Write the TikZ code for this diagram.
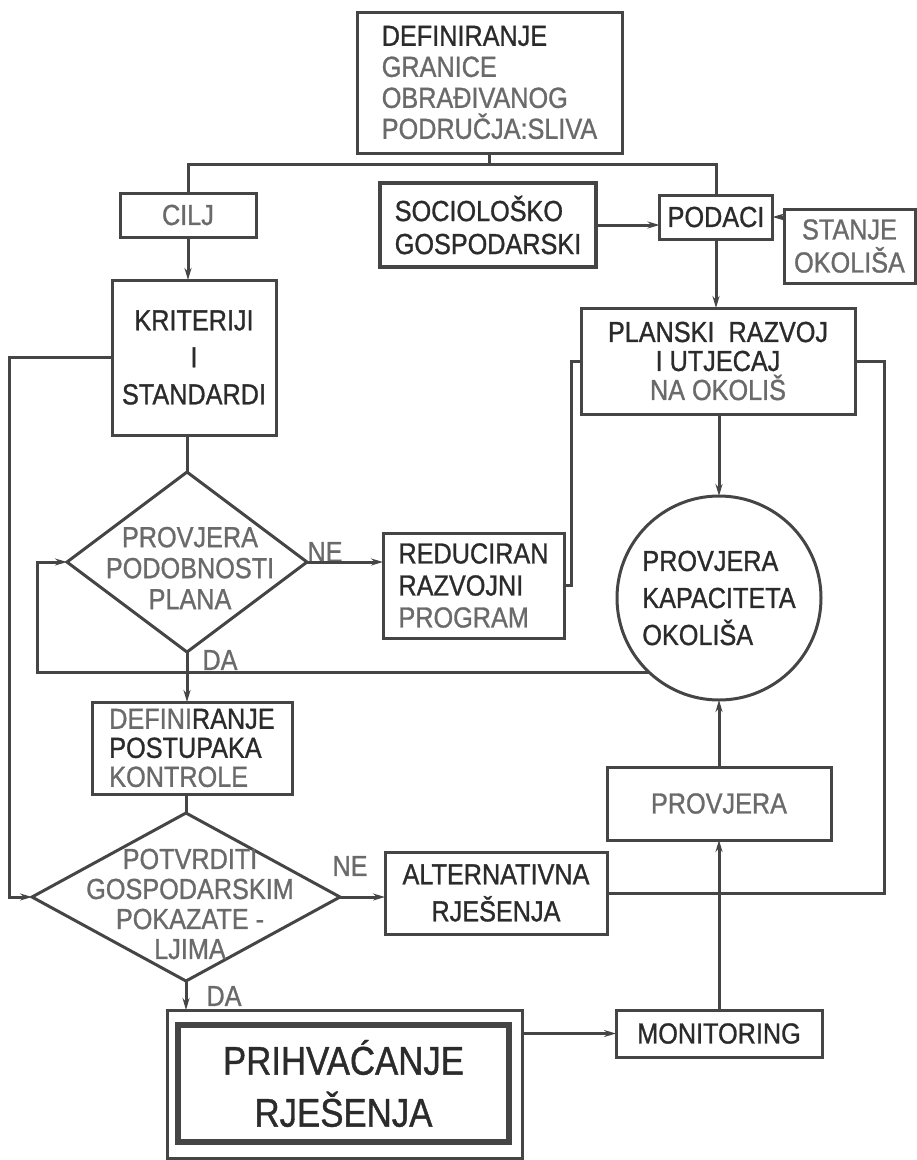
\documentclass[tikz,border=0pt]{standalone}
\usepackage{fontspec}
\setmainfont[FakeStretch=0.87,FakeBold=1]{Liberation Sans}
\usetikzlibrary{arrows.meta,shapes.geometric}

\definecolor{ink}{HTML}{2B2B2B}
\definecolor{pale}{HTML}{6A6A6A}
\definecolor{crta}{HTML}{454545}

\begin{document}
\begin{tikzpicture}[x=1pt,y=-1pt,line width=3pt,color=crta]
        \tikzstyle{every node}+=[inner sep=0pt,outer sep=0pt,text=ink,font=\fontsize{29}{32}\selectfont]
        \tikzstyle{blok}=[draw,rectangle]
        \tikzstyle{romb}=[draw,diamond]
        \tikzstyle{strelica}=[-{Stealth[length=12pt,width=7pt]}]
        \useasboundingbox (0,0) rectangle (917,1160);

        % gornji dio
        \node [blok,minimum width=265pt,minimum height=141pt,align=left,font=\fontsize{29}{31}\selectfont] (granice) at (489.5,82.5)
            {DEFINIRANJE\\\textcolor{pale}{GRANICE}\\\textcolor{pale}{OBRAĐIVANOG}\\\textcolor{pale}{PODRUČJA:SLIVA}};
        \node [blok,minimum width=136pt,minimum height=44pt,text=pale] (cilj) at (188,215) {CILJ};
        \node [blok,line width=4pt,minimum width=216pt,minimum height=84pt,align=left,font=\fontsize{29}{33}\selectfont] (socio) at (488,225)
            {SOCIOLOŠKO\\GOSPODARSKI};
        \node [blok,minimum width=113pt,minimum height=44pt] (podaci) at (716,217) {PODACI};
        \node [blok,minimum width=131pt,minimum height=74pt,text=pale,align=center,font=\fontsize{29}{33}\selectfont] (stanje) at (849.5,246)
            {STANJE\\OKOLIŠA};
        \coordinate (sabir) at (489.5,164);

        % lijeva grana
        \node [blok,minimum width=164pt,minimum height=155pt,align=center,font=\fontsize{29}{37}\selectfont] (kriter) at (194,357.5)
            {KRITERIJI\\I\\STANDARDI};
        \node [romb,minimum width=240pt,minimum height=180pt] (podob) at (187,562) {};
        \node [align=center,text=pale,font=\fontsize{29}{31}\selectfont] (podobtxt) at (190,568) {PROVJERA\\PODOBNOSTI\\PLANA};
        \node [blok,minimum width=181pt,minimum height=105pt,align=left] (reduc) at (473.5,585.5)
            {REDUCIRAN\\RAZVOJNI\\\textcolor{pale}{PROGRAM}};
        \node [blok,minimum width=200pt,minimum height=92pt,align=left,font=\fontsize{29}{29}\selectfont] (postup) at (192,748)
            {\textcolor{pale}{DEFINI}RANJE\\POSTUPAKA\\\textcolor{pale}{KONTROLE}};
        \node [romb,minimum width=308pt,minimum height=168pt] (potvrd) at (186,897) {};
        \node [align=center,text=pale,font=\fontsize{29}{30}\selectfont] (potvrdtxt) at (190,904) {POTVRDITI\\GOSPODARSKIM\\POKAZATE -\\LJIMA};
        \node [blok,minimum width=222pt,minimum height=82pt,align=center,font=\fontsize{29}{37}\selectfont] (altern) at (496,893)
            {ALTERNATIVNA\\RJEŠENJA};
        \node [blok,minimum width=355pt,minimum height=148pt] (prihv) at (344.5,1084) {};
        \node [blok,line width=6pt,minimum width=331pt,minimum height=117pt,align=center,font=\fontsize{40}{52}\selectfont] (prihvin) at (343.5,1083.5)
            {PRIHVAĆANJE\\RJEŠENJA};

        % desna grana
        \node [blok,minimum width=274pt,minimum height=106pt,align=center,font=\fontsize{29}{29}\selectfont] (plan) at (718,361)
            {PLANSKI\ \ RAZVOJ\\I UTJECAJ\\\textcolor{pale}{NA OKOLIŠ}};
        \node [draw,circle,minimum size=204pt,align=left,font=\fontsize{29}{37}\selectfont] (kapac) at (719,598)
            {PROVJERA\\KAPACITETA\\OKOLIŠA};
        \node [blok,minimum width=224pt,minimum height=73pt,text=pale] (provj) at (719,803.5) {PROVJERA};
        \node [blok,minimum width=206pt,minimum height=47pt] (monit) at (719,1033.5) {MONITORING};

        % oznake grananja
        \node [text=pale] (ne1) at (325,552) {NE};
        \node [text=pale] (da1) at (220,660) {DA};
        \node [text=pale] (ne2) at (350,866) {NE};
        \node [text=pale] (da2) at (224,996) {DA};

        % veze
        \draw (granice.south) -- (granice.south |- sabir);
        \draw (cilj.north) |- (sabir) -| (podaci.north);
        \draw [strelica] (cilj.south) -- (cilj.south |- kriter.north);
        \draw (kriter.south -| podob.north) -- (podob.north);
        \draw [strelica] (socio.east) -- (socio.east -| podaci.west);
        \draw [strelica] (stanje.west |- podaci.east) -- (podaci.east);
        \draw [strelica] (podaci.south) -- (podaci.south |- plan.north);
        \draw [strelica] (plan.south -| kapac.north) -- (kapac.north);
        \draw [strelica] (podob.east) -- (podob.east -| reduc.west);
        \draw (reduc.east) -- ++(7,0) |- (plan.west);
        \draw [strelica] (kapac.227) -| ([xshift=-30pt]podob.west) -- (podob.west);
        \draw [strelica] (kriter.west) -- ++(-103,0) |- (potvrd.west);
        \draw [strelica] (podob.south) -- (podob.south |- postup.north);
        \draw (postup.south -| potvrd.north) -- (potvrd.north);
        \draw [strelica] (potvrd.east) -- (potvrd.east -| altern.west);
        \draw (altern.east) -- ++(277,0) |- (plan.east);
        \draw [strelica] (potvrd.south) -- (potvrd.south |- prihv.north);
        \draw [strelica] (prihv.east |- monit.west) -- (monit.west);
        \draw [strelica] (monit.north) -- (provj.south);
        \draw [strelica] (provj.north) -- (kapac.south);
\end{tikzpicture}
\end{document}
